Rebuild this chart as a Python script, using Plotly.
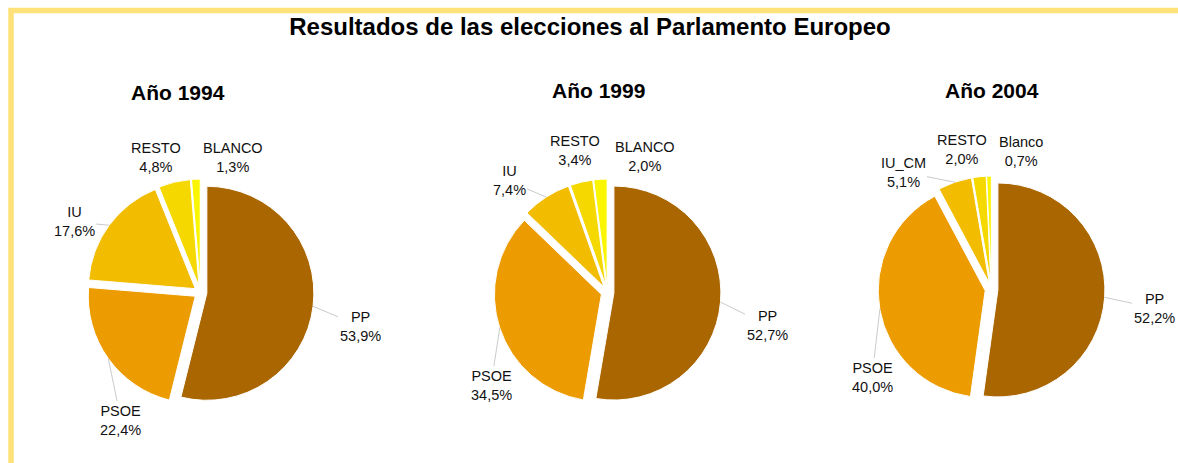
import math
import plotly.graph_objects as go

W, H = 1178, 463
OFF = 0  # page body margin removed below

years = ["Año 1994", "Año 1999", "Año 2004"]
labels_1994 = ["PP", "PSOE", "IU", "RESTO", "BLANCO"]
values_1994 = [53.9, 22.4, 17.6, 4.8, 1.3]
labels_1999 = ["PP", "PSOE", "IU", "RESTO", "BLANCO"]
values_1999 = [52.7, 34.5, 7.4, 3.4, 2.0]
labels_2004 = ["PP", "PSOE", "IU_CM", "RESTO", "Blanco"]
values_2004 = [52.2, 40.0, 5.1, 2.0, 0.7]

colors = ["#AA6600", "#EC9C00", "#F2BC00", "#F5D800", "#FAF500"]

FONT = "Liberation Sans, Arial, sans-serif"
PULL = 0.06
R = 107
half = R * (1 + PULL)

# layout: pie centres and label placements (page pixels, from top-left)
centres = [(200.5, 292.5), (607.5, 292.5), (991.5, 289.5)]
title_pos = [(178, 92), (598, 90), (992, 90)]
label_pos = [
    [(360, 326), (121, 420), (74, 222), (156, 157), (233, 157)],
    [(767, 325), (491, 385), (509, 181), (575, 150), (645, 156)],
    [(1154, 308), (872, 377), (903, 172), (962, 149), (1021, 152)],
]
leader = [True, True, True, False, False]


def px(x):
    return (x - OFF) / W


def py(y):
    return 1 - (y - OFF) / H


fig = go.Figure()
annotations = []
datasets = [(labels_1994, values_1994), (labels_1999, values_1999), (labels_2004, values_2004)]
for (lab, val), (cx, cy), lpos in zip(datasets, centres, label_pos):
    fig.add_trace(go.Pie(
        labels=lab,
        values=val,
        sort=False,
        direction="clockwise",
        rotation=0,
        pull=[PULL] * len(val),
        marker=dict(colors=colors, line=dict(color="white", width=1)),
        textinfo="none",
        domain=dict(x=[px(cx - half), px(cx + half)], y=[py(cy + half), py(cy - half)]),
        showlegend=False,
        hoverinfo="label+percent",
    ))
    total = sum(val)
    cum = 0.0
    for i, (l, v) in enumerate(zip(lab, val)):
        mid = (cum + v / 2) / total * 2 * math.pi
        cum += v
        txt = f"{l}<br>{v:.1f}%".replace(".", ",")
        lx, ly = lpos[i]
        if leader[i]:
            ax_ = cx + R * (1 + PULL) * math.sin(mid)
            ay_ = cy - R * (1 + PULL) * math.cos(mid)
            annotations.append(dict(
                text=txt, x=px(ax_), y=py(ay_), xref="paper", yref="paper",
                showarrow=True, arrowhead=0, arrowwidth=0.8, arrowcolor="#BDBDBD",
                ax=lx - ax_, ay=ly - ay_, standoff=0, startstandoff=0,
                font=dict(family=FONT, size=14.5, color="#111"),
            ))
        else:
            annotations.append(dict(
                text=txt, x=px(lx), y=py(ly), xref="paper", yref="paper",
                xanchor="center", yanchor="middle", showarrow=False,
                font=dict(family=FONT, size=14.5, color="#111"),
            ))

for t, (tx, ty) in zip(years, title_pos):
    annotations.append(dict(
        text=f"<b>{t}</b>", x=px(tx), y=py(ty), xref="paper", yref="paper",
        xanchor="center", yanchor="middle", showarrow=False,
        font=dict(family=FONT, size=21, color="#000"),
    ))

fig.update_layout(
    width=W, height=H,
    margin=dict(l=0, r=0, t=0, b=0),
    paper_bgcolor="white",
    separators=",.",
    title=dict(
        text="<b>Resultados de las elecciones al Parlamento Europeo</b>",
        x=px(590), xanchor="center", y=py(27), yanchor="middle",
        font=dict(family=FONT, size=24, color="#000"),
    ),
    annotations=annotations,
    shapes=[dict(
        type="rect", xref="paper", yref="paper",
        x0=px(11), x1=1.05, y0=-0.05, y1=py(10.5),
        line=dict(color="#FFE17A", width=5.5), fillcolor="rgba(0,0,0,0)",
        layer="below",
    )],
)

fig.write_html(
    "out.html",
    config={"displayModeBar": False},
    post_script="document.body.style.margin='0px';document.body.style.overflow='hidden';",
)
